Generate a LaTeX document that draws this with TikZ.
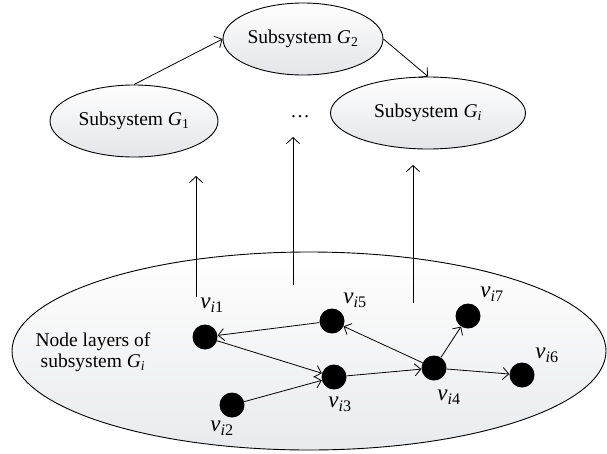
\documentclass[tikz,border=0pt]{standalone}
\usepackage{fontspec}
\setmainfont{Liberation Serif}
\usepackage{tikz}
\usetikzlibrary{arrows.meta,positioning,shapes.geometric}
\definecolor{shd}{RGB}{228,229,232}

\begin{document}
\begin{tikzpicture}[x=1pt, y=-1pt,
  subsys/.style={draw, ellipse, top color=white, bottom color=shd,
                 line width=0.9pt, inner sep=0pt,
                 font=\fontsize{19.5}{22}\selectfont},
  layer/.style={draw, ellipse, top color=white, bottom color=shd!80,
                line width=0.9pt, inner sep=0pt},
  vertex/.style={circle, fill=black, minimum size=25pt, inner sep=0pt},
  vlabel/.style={font=\fontsize{23}{26}\selectfont\itshape, inner sep=1pt},
  flow/.style={-{Straight Barb[length=6pt,width=13pt]}, line width=0.8pt},
  edge/.style={-{Straight Barb[length=6pt,width=12pt]}, line width=0.8pt}
]
\useasboundingbox (0,0) rectangle (607,453);

\node[layer, minimum width=594pt, minimum height=198pt] (layers) at (309,351) {};
\node[align=center, font=\fontsize{19.5}{21}\selectfont] (caption) at (93,352)
  {Node layers of\\subsystem \textit{G}\textsubscript{\textit{i}}};

\node[subsys, minimum width=168pt, minimum height=72pt] (g1) at (134,121)
  {Subsystem \textit{G}\textsubscript{1}};
\node[subsys, minimum width=160pt, minimum height=72pt] (g2) at (303,39)
  {Subsystem \textit{G}\textsubscript{2}};
\node[subsys, minimum width=195pt, minimum height=72pt] (gi) at (428,113)
  {Subsystem \textit{G}\textsubscript{\textit{i}}};
\node[font=\fontsize{19.5}{22}\selectfont] (dots) at (300,117) {\dots};

\draw[flow] (g1.north) -- (g2.west);
\draw[flow] (g2.east) -- (gi.north);

\coordinate (up1) at (196,297);
\coordinate (up2) at (293,285);
\coordinate (up3) at (413,303);
\coordinate (top1) at (196,176);
\coordinate (top2) at (293,137);
\coordinate (top3) at (413,165);
\draw[flow] (up1) -- (top1);
\draw[flow] (up2) -- (top2);
\draw[flow] (up3) -- (top3);

\node[vertex] (v1) at (205,337) {};
\node[vertex] (v2) at (232,405) {};
\node[vertex] (v3) at (334,377) {};
\node[vertex] (v4) at (434,368) {};
\node[vertex] (v5) at (332,321) {};
\node[vertex] (v6) at (522,375) {};
\node[vertex] (v7) at (468,316) {};

\node[vlabel] at (212,305) {v\textsubscript{i\upshape 1}};
\node[vlabel] at (222,428) {v\textsubscript{i\upshape 2}};
\node[vlabel] at (340,404) {v\textsubscript{i\upshape 3}};
\node[vlabel] at (449,397) {v\textsubscript{i\upshape 4}};
\node[vlabel] at (355,300) {v\textsubscript{i\upshape 5}};
\node[vlabel] at (547,355) {v\textsubscript{i\upshape 6}};
\node[vlabel] at (492,294) {v\textsubscript{i\upshape 7}};

\draw[edge] (v5) -- (v1);
\draw[edge] (v1) -- (v3);
\draw[edge] (v2) -- (v3);
\draw[edge] (v3) -- (v4);
\draw[edge] (v4) -- (v5);
\draw[edge] (v4) -- (v7);
\draw[edge] (v4) -- (v6);
\end{tikzpicture}
\end{document}
